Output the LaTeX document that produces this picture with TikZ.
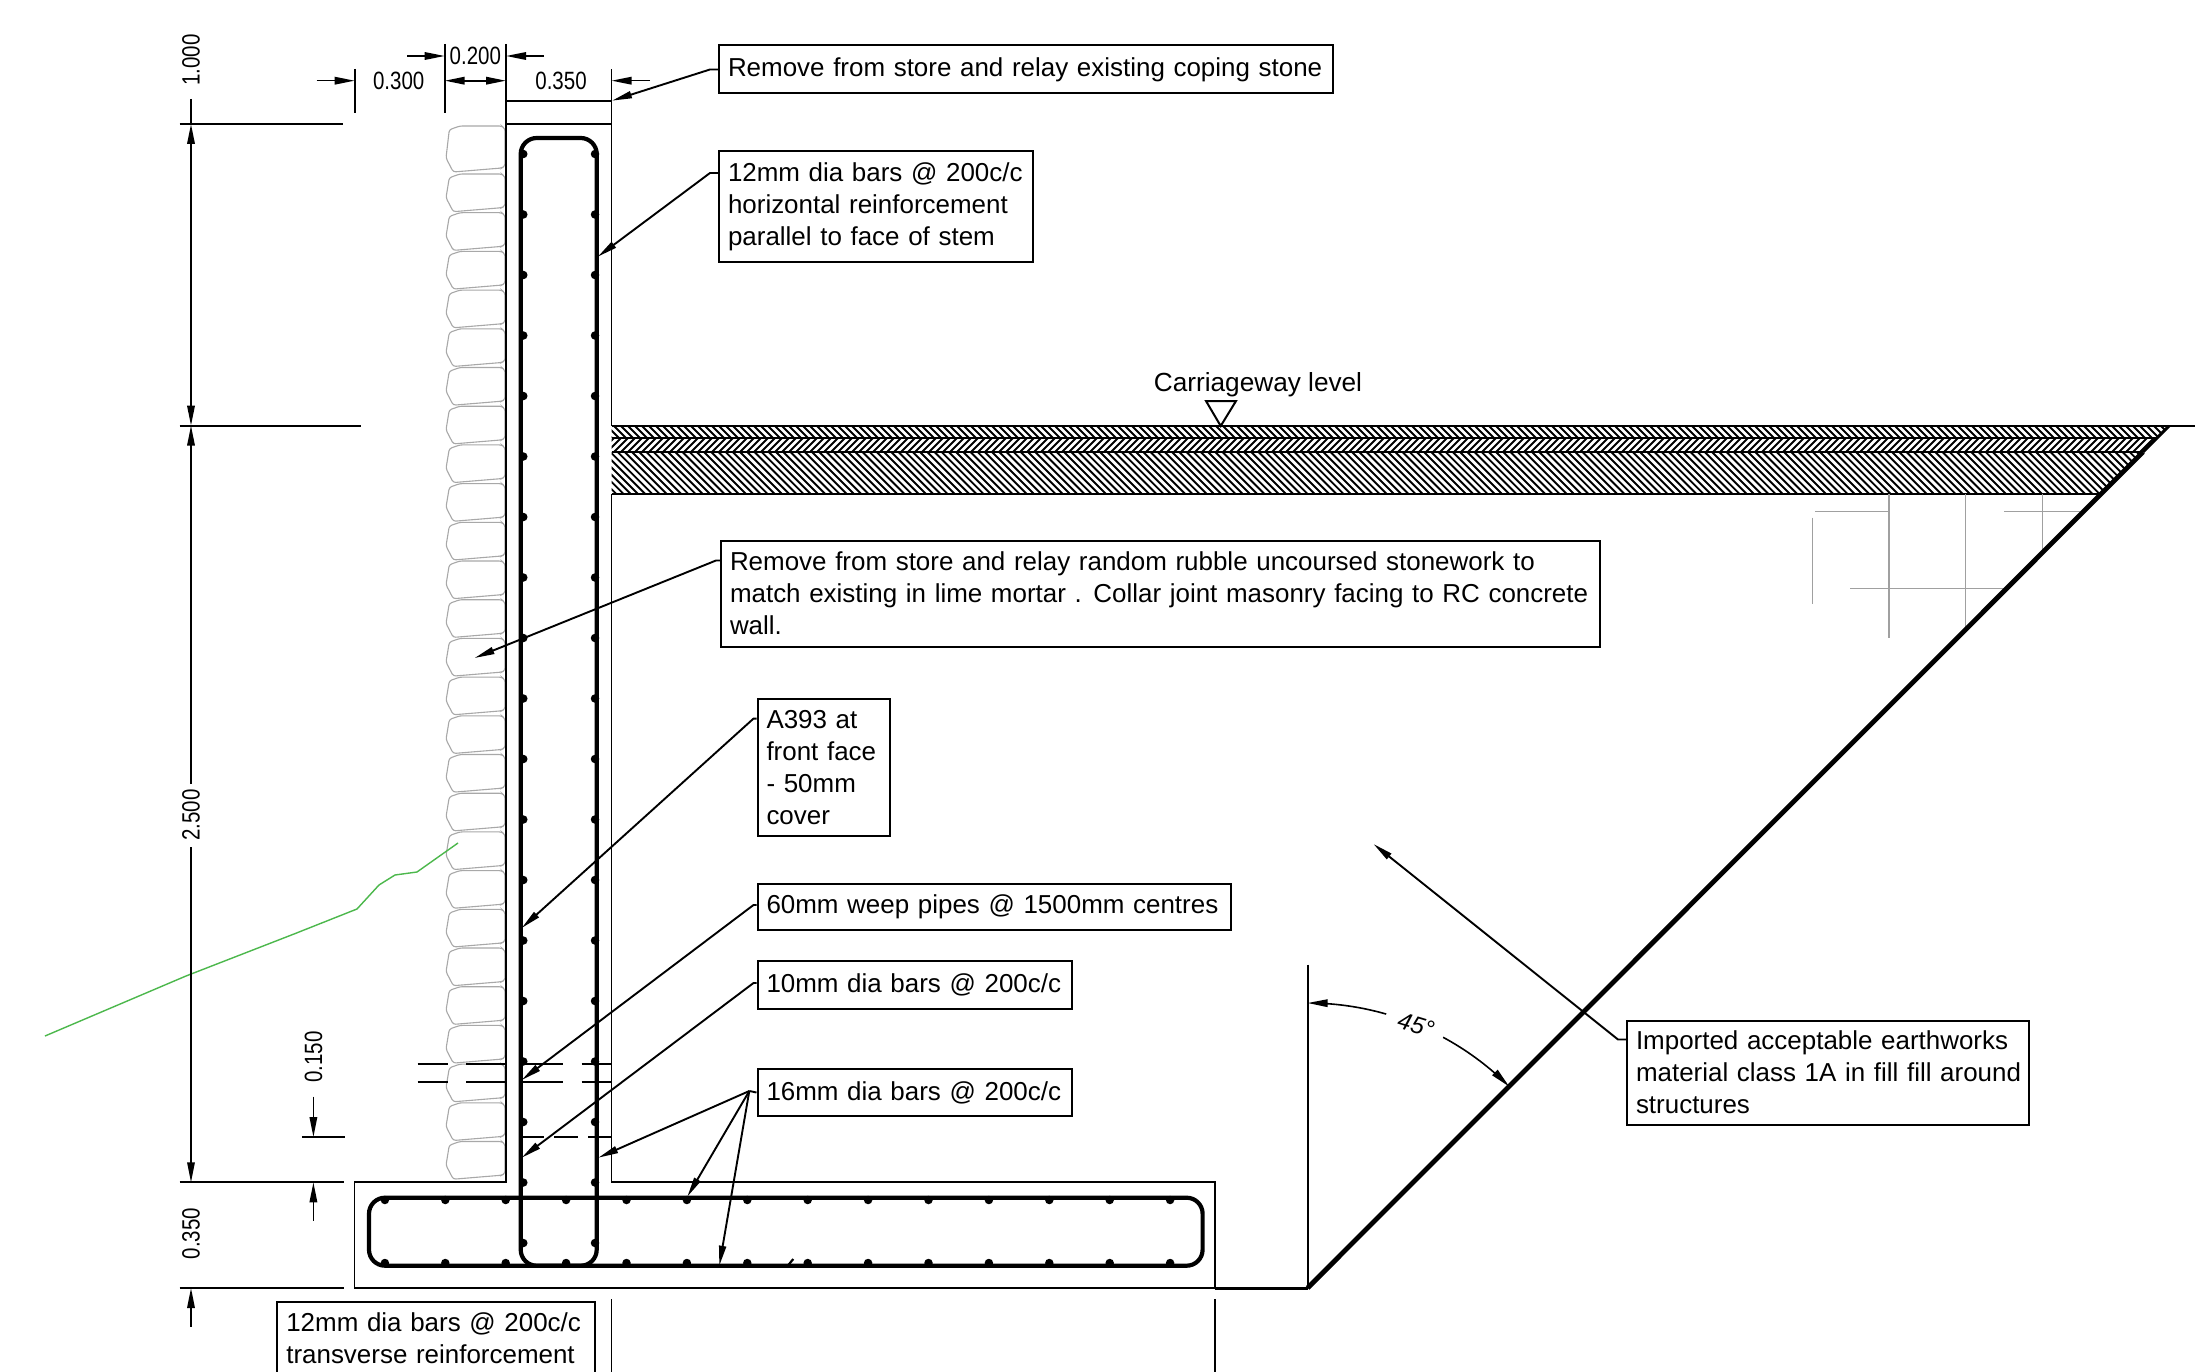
\documentclass[tikz,border=0pt]{standalone}
\usepackage{fontspec}
\usetikzlibrary{arrows.meta}
\setmainfont{Liberation Sans}
\newfontfamily\dimfamily[FakeStretch=0.82]{Liberation Sans}
\definecolor{stonegray}{HTML}{A8A8A8}
\definecolor{gridgray}{HTML}{A0A0A0}
\definecolor{groundgreen}{HTML}{4CB84C}
\tikzset{
  main/.style={line width=1.8pt,black},
  rebar/.style={line width=4.2pt,black,rounded corners=16pt},
  dimline/.style={line width=1.8pt,black},
  dimarrow/.style={line width=1.6pt,black,-{Triangle[length=20pt,width=7.5pt]}},
  leader/.style={line width=1.9pt,black,-{Triangle[length=20pt,width=7pt]}},
  labelbox/.style={draw=black,line width=2pt,fill=white,anchor=north west,inner xsep=9pt,inner ysep=0pt,align=left,font=\fontsize{25.95}{32}\selectfont\frenchspacing},
  dimtext/.style={inner sep=0pt,font=\dimfamily\fontsize{25}{30}\selectfont},
  stone/.style={line width=1.1pt,stonegray,rounded corners=2.5pt},
  hatchA/.style={line width=1.9pt,black},
  grid/.style={line width=1.3pt,gridgray},
  dot/.style={circle,fill=black,inner sep=0pt,minimum size=8.5pt}
}
\begin{document}
\begin{tikzpicture}[x=1pt,y=-1pt]
\useasboundingbox (0,0) rectangle (2195,1372);
\clip (0,0) rectangle (2195,1372);
\fill[white] (0,0) rectangle (2195,1372);

% stones
\draw[stone] (449.3,129.7) -- (460,126) -- (501.7,126) -- (505,128.7) -- (505,166) -- (501.7,168) -- (453.3,172) -- (446,158) -- cycle;
\foreach \k in {0,...,25}{
  \pgfmathsetmacro{\yy}{174+38.7*\k}
  \draw[stone] (449.3,\yy+3.7) -- (460,\yy) -- (501.7,\yy) -- (505,\yy+2.7) -- (505,\yy+32) -- (501.7,\yy+33.7) -- (453.3,\yy+37.7) -- (446,\yy+23.7) -- cycle;
}

% ground line
\draw[line width=1.4pt,groundgreen] (45,1036) -- (186,976) -- (294,934) -- (357,909) -- (379,885) -- (395,875) -- (417,872) -- (458,843);

% road layers hatching
\begin{scope}
\clip (611.5,426) -- (2169,426) -- (2157,438) -- (611.5,438) -- cycle;
\foreach \i in {0,...,225}{ \draw[hatchA] (600+7*\i,426) -- (612+7*\i,438); }
\end{scope}
\begin{scope}
\clip (611.5,438) -- (2157,438) -- (2143,452) -- (611.5,452) -- cycle;
\foreach \i in {0,...,225}{ \draw[hatchA] (600+7*\i,452) -- (614+7*\i,438); }
\end{scope}
\begin{scope}
\clip (611.5,452) -- (2143,452) -- (2101,494.3) -- (611.5,494.3) -- cycle;
\foreach \i in {0,...,225}{ \draw[line width=1.9pt,black] (560+7.2*\i,452) -- (602.3+7.2*\i,494.3); }
\end{scope}
\draw[line width=2pt] (611.5,426) -- (2195,426);
\draw[line width=2pt] (611.5,438) -- (2157,438);
\draw[line width=2pt] (611.5,452) -- (2143,452);
\draw[line width=2pt] (611.5,494.3) -- (2101,494.3);

% grey lines
\draw[grid] (1815,511.7) -- (1889,511.7);
\draw[grid] (1889,494.3) -- (1889,637.7);
\draw[grid] (1965.7,494.3) -- (1965.7,626.7);
\draw[grid] (2042.7,494.3) -- (2042.7,550);
\draw[grid] (2004,511.7) -- (2080,511.7);
\draw[grid] (1812.3,517.7) -- (1812.3,604.3);
\draw[grid] (1850,588.3) -- (2004,588.3);

% slope and ground
\draw[line width=3pt] (2169,426) -- (2143,452);
\draw[line width=4.8pt] (2143,452) -- (1307.6,1288);
\draw[line width=3pt] (1215,1288) -- (1307.6,1288);
\draw[main] (1307.6,964.6) -- (1307.6,1288);

% wall and footing
\draw[main] (506,44) -- (506,1182.3) -- (354.5,1182.3) -- (354.5,1288) -- (1215,1288) -- (1215,1182.3) -- (611.5,1182.3) -- (611.5,494.3);
\draw[main] (611.5,426) -- (611.5,69);
\draw[main] (506,100.7) -- (611.5,100.7);
\draw[line width=2pt] (506,124) -- (611.5,124);
\draw[main] (611.5,1299) -- (611.5,1372);
\draw[main] (1215,1299) -- (1215,1372);

% rebars
\draw[rebar] (520.7,1265.7) rectangle (596.7,138);
\draw[rebar] (369,1197.7) rectangle (1202.6,1265.7);
\foreach \k in {0,...,18}{
  \pgfmathsetmacro{\yy}{154+60.5*\k}
  \node[dot] (sl\k) at (523.3,\yy) {};
  \node[dot] (sr\k) at (595,\yy) {};
}
\foreach \k in {0,...,13}{
  \pgfmathsetmacro{\xx}{384.9+60.4*\k}
  \node[dot] (ft\k) at (\xx,1200) {};
  \node[dot] (fb\k) at (\xx,1263) {};
}
\draw[line width=2.2pt] (786.7,1267) -- (793.3,1259);

% weep pipes
\foreach \yy in {1063.7,1081.7}{
  \draw[main] (417.7,\yy) -- (448.3,\yy);
  \draw[main] (466.3,\yy) -- (506,\yy);
  \draw[main] (521.7,\yy) -- (563.3,\yy);
  \draw[main] (581.7,\yy) -- (611.3,\yy);
}
\draw[main] (521.7,1137) -- (544,1137);
\draw[main] (554.3,1137) -- (578,1137);
\draw[main] (588.3,1137) -- (611.3,1137);

% dimension ticks
\draw[dimline] (179.5,124) -- (343,124);
\draw[dimline] (179.5,425.6) -- (361,425.6);
\draw[dimline] (179.5,1182.3) -- (343.7,1182.3);
\draw[dimline] (179.5,1288) -- (343.7,1288);
\draw[dimline] (301.8,1137) -- (344.6,1137);
\draw[dimline] (354.7,69) -- (354.7,113);
\draw[dimline] (444.7,44) -- (444.7,113);

% vertical dims
\coordinate (v1) at (191,99);
\coordinate (v2) at (191,124);
\coordinate (v3) at (191,425.6);
\coordinate (v4) at (191,784);
\coordinate (v5) at (191,847);
\coordinate (v6) at (191,1182.3);
\coordinate (v7) at (191,1288);
\coordinate (v8) at (191,1326.7);
\draw[dimline] (v1) -- (v2);
\draw[dimline,{Triangle[length=20pt,width=7.5pt]}-{Triangle[length=20pt,width=7.5pt]}] (v2) -- (v3);
\draw[dimarrow] (v4) -- (v3);
\draw[dimarrow] (v5) -- (v6);
\draw[dimarrow] (v8) -- (v7);
\node[dimtext,rotate=90] (d1000) at (191,60) {1.000};
\node[dimtext,rotate=90] (d2500) at (191,815) {2.500};
\node[dimtext,rotate=90] (d0350) at (191,1233.5) {0.350};
\node[dimtext,rotate=90] (d0150) at (313.4,1057) {0.150};
\coordinate (w1) at (313.4,1096.7);
\coordinate (w2) at (313.4,1137);
\coordinate (w3) at (313.4,1220.7);
\coordinate (w4) at (313.4,1182.3);
\draw[dimarrow] (w1) -- (w2);
\draw[dimarrow] (w3) -- (w4);

% horizontal dims
\node[dimtext] (d0300) at (398.7,81) {0.300};
\node[dimtext] (d0200) at (475.3,56) {0.200};
\node[dimtext] (d0350h) at (561,81) {0.350};
\coordinate (h1) at (316.5,80.7);
\coordinate (h2) at (354.7,80.7);
\coordinate (h3) at (444.7,80.7);
\coordinate (h4) at (506,80.7);
\coordinate (h5) at (650,80.7);
\coordinate (h6) at (611.5,80.7);
\coordinate (h7) at (407,56);
\coordinate (h8) at (444.7,56);
\coordinate (h9) at (544,56);
\coordinate (h10) at (506,56);
\draw[dimarrow] (h1) -- (h2);
\draw[dimline,{Triangle[length=20pt,width=7.5pt]}-{Triangle[length=20pt,width=7.5pt]}] (h3) -- (h4);
\draw[dimarrow] (h5) -- (h6);
\draw[dimarrow] (h7) -- (h8);
\draw[dimarrow] (h9) -- (h10);

% angle dimension
\draw[dimarrow] plot[domain=-74:-90,samples=20] ({1307.6+285*cos(\x)},{1288+285*sin(\x)});
\draw[dimarrow] plot[domain=-61.6:-45,samples=20] ({1307.6+285*cos(\x)},{1288+285*sin(\x)});
\node[inner sep=0pt,rotate=-17,font=\itshape\fontsize{24}{28}\selectfont] (d45) at (1416,1025) {45°};

% carriageway level
\node[inner sep=0pt,font=\fontsize{26.2}{32}\selectfont] (cw) at (1258,385) {Carriageway level};
\draw[line width=2pt,fill=white] (1206,401) -- (1236,401) -- (1220.7,426) -- cycle;

% label boxes
\node[labelbox,text width=596pt,minimum height=48pt] (b1) at (718,44.5) {\mbox{Remove from store and relay existing coping stone}};
\node[labelbox,text width=296pt,minimum height=111pt] (b2) at (718,150) {\mbox{12mm dia bars @ 200c/c}\\\mbox{horizontal reinforcement}\\\mbox{parallel to face of stem}};
\node[labelbox,text width=861pt,minimum height=106pt] (b3) at (720,539.5) {\mbox{Remove from store and relay random rubble uncoursed stonework to}\\\mbox{match existing in lime mortar .\hspace{3pt} Collar joint masonry facing to RC concrete}\\\mbox{wall.}};
\node[labelbox,text width=114pt,minimum height=137pt] (b4) at (756.5,697.6) {A393 at\\front face\\- 50mm\\cover};
\node[labelbox,text width=455pt,minimum height=46pt] (b5) at (756.5,883) {\mbox{60mm weep pipes @ 1500mm centres}};
\node[labelbox,text width=296pt,minimum height=48pt] (b6) at (756.5,960) {\mbox{10mm dia bars @ 200c/c}};
\node[labelbox,text width=296pt,minimum height=47pt] (b7) at (756.5,1068) {\mbox{16mm dia bars @ 200c/c}};
\node[labelbox,text width=384pt,minimum height=104pt] (b8) at (1626,1019.5) {\mbox{Imported acceptable earthworks}\\\mbox{material class 1A in fill fill around}\\\mbox{structures}};
\node[labelbox,text width=300pt,minimum height=72pt] (b9) at (276.3,1301) {\mbox{12mm dia bars @ 200c/c}\\\mbox{transverse reinforcement}};

% leaders
\coordinate (t1) at (612,100.7);
\coordinate (t2) at (597.8,256.7);
\coordinate (t3) at (474.6,658);
\coordinate (t4) at (521.7,928);
\coordinate (t5) at (521.7,1080);
\coordinate (t6) at (521.7,1157.7);
\coordinate (t7a) at (598.3,1157.7);
\coordinate (t7b) at (687.3,1196.7);
\coordinate (t7c) at (719.3,1265.7);
\coordinate (t8) at (1373.5,844);
\coordinate (k7) at (749.3,1091);
\draw[leader] (b1.west) -- ++(-8,0) -- (t1);
\draw[leader] (b2.north west) ++(0,23) -- ++(-8,0) -- (t2);
\draw[leader] (b3.north west) ++(0,21) -- ++(-4,0) -- (t3);
\draw[leader] (b4.north west) ++(0,21) -- ++(-3,0) -- (t4);
\draw[leader] (b5.north west) ++(0,22) -- ++(-3,0) -- (t5);
\draw[leader] (b6.north west) ++(0,23) -- ++(-3,0) -- (t6);
\draw[line width=1.9pt] (b7.west) -- (k7);
\draw[leader] (k7) -- (t7a);
\draw[leader] (k7) -- (t7b);
\draw[leader] (k7) -- (t7c);
\draw[leader] (b8.north west) ++(0,20) -- ++(-8,0) -- (t8);
\end{tikzpicture}
\end{document}
